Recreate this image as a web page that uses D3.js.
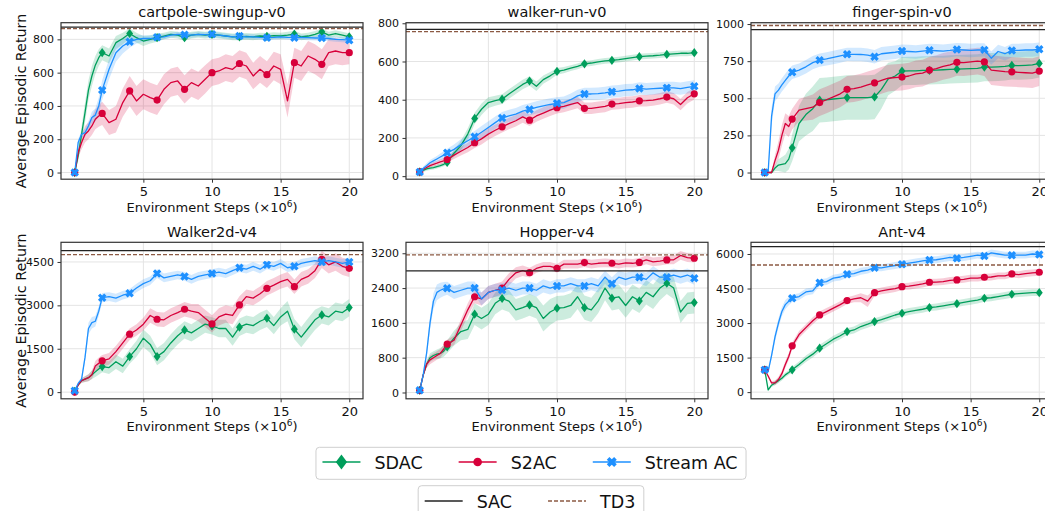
<!DOCTYPE html>
<html>
<head>
<meta charset="utf-8">
<script src="https://cdn.jsdelivr.net/npm/d3@7"></script>
<style>
  body { margin: 0; background: #fff; }
  svg { display: block; font-family: "DejaVu Sans", sans-serif; }
</style>
</head>
<body>
<svg id="fig" width="1045" height="511"></svg>
<script>
// Environment steps (millions) at which returns were evaluated
const steps = [0, 0.25, 0.5, 0.75, 1, 1.25, 1.5, 1.75, 2, 2.5, 3, 3.5, 4, 4.5, 5, 5.5, 6, 6.5, 7, 7.5, 8, 8.5, 9, 9.5, 10, 10.5, 11, 11.5, 12, 12.5, 13, 13.5, 14, 14.5, 15, 15.5, 16, 16.5, 17, 17.5, 18, 18.5, 19, 19.5, 20];
const markerSteps = [0, 2, 4, 6, 8, 10, 12, 14, 16, 18, 20];
const xTicks = [5, 10, 15, 20];

const envNames = ["cartpole-swingup-v0", "walker-run-v0", "finger-spin-v0", "Walker2d-v4", "Hopper-v4", "Ant-v4"];
const sacScores = [873, 768, 962, 4890, 2794, 6317];
const td3Scores = [865, 756, 990, 4752, 3161, 5523];

const cartpoleTicks = [0, 200, 400, 600, 800];
const walkerRunTicks = [0, 200, 400, 600, 800];
const fingerTicks = [0, 250, 500, 750, 1000];
const walker2dTicks = [0, 1500, 3000, 4500];
const hopperTicks = [0, 800, 1600, 2400, 3200];
const antTicks = [0, 1500, 3000, 4500, 6000];

// cartpole-swingup-v0: mean return and half-width of the shaded band
const cartpoleSDAC = [0, 100, 230, 360, 495, 580, 645, 690, 720, 700, 780, 805, 835, 810, 790, 800, 810, 820, 830, 825, 810, 825, 830, 825, 830, 825, 820, 815, 815, 818, 815, 820, 818, 822, 820, 825, 832, 815, 820, 830, 845, 825, 835, 825, 815];
const cartpoleSDACSpread = [0, 30, 50, 60, 60, 60, 55, 50, 45, 45, 40, 35, 30, 30, 30, 25, 25, 20, 20, 20, 20, 20, 20, 20, 20, 20, 20, 20, 20, 20, 20, 20, 20, 20, 20, 20, 20, 20, 20, 20, 20, 20, 20, 20, 20];
const cartpoleS2AC = [0, 120, 180, 230, 250, 280, 320, 340, 355, 300, 320, 420, 490, 430, 470, 450, 435, 500, 540, 550, 500, 540, 520, 560, 600, 610, 630, 620, 655, 640, 580, 620, 588, 640, 620, 430, 660, 640, 700, 680, 650, 720, 730, 720, 720];
const cartpoleS2ACSpread = [0, 30, 40, 50, 50, 55, 60, 65, 70, 75, 80, 85, 90, 90, 90, 90, 90, 90, 85, 85, 85, 85, 85, 85, 80, 80, 80, 80, 80, 80, 80, 80, 80, 85, 90, 100, 90, 90, 90, 90, 90, 80, 80, 75, 70];
const cartpoleStream = [0, 180, 230, 240, 280, 330, 345, 400, 495, 620, 720, 760, 785, 800, 805, 805, 812, 815, 825, 830, 828, 825, 830, 828, 830, 825, 820, 815, 820, 815, 815, 812, 810, 812, 815, 812, 810, 812, 810, 808, 808, 805, 800, 798, 795];
const cartpoleStreamSpread = [0, 20, 20, 25, 30, 35, 40, 50, 60, 60, 55, 45, 35, 25, 20, 18, 15, 15, 15, 15, 15, 15, 15, 15, 15, 15, 15, 15, 15, 15, 15, 15, 15, 15, 15, 15, 15, 15, 15, 15, 15, 15, 15, 15, 15];

// walker-run-v0
const walkerRunSDAC = [22, 30, 38, 42, 45, 50, 55, 62, 72, 120, 160, 220, 302, 350, 385, 395, 403, 430, 455, 480, 498, 470, 505, 525, 548, 555, 565, 575, 588, 592, 598, 603, 606, 610, 615, 620, 625, 628, 630, 633, 637, 640, 643, 643, 646];
const walkerRunSDACSpread = [0, 8, 10, 10, 10, 10, 10, 10, 12, 18, 25, 30, 30, 30, 28, 26, 25, 25, 25, 25, 25, 25, 22, 20, 18, 16, 15, 15, 15, 15, 15, 15, 15, 15, 15, 15, 15, 15, 15, 15, 15, 15, 15, 15, 15];
const walkerRunS2AC = [22, 35, 45, 55, 62, 68, 75, 80, 87, 110, 130, 150, 175, 195, 220, 240, 258, 275, 290, 310, 293, 315, 330, 345, 358, 365, 375, 385, 355, 355, 360, 365, 377, 380, 385, 388, 394, 395, 398, 405, 414, 405, 375, 410, 431];
const walkerRunS2ACSpread = [0, 8, 10, 10, 12, 12, 14, 15, 16, 20, 22, 25, 28, 30, 30, 30, 30, 30, 30, 30, 30, 30, 30, 30, 30, 30, 30, 30, 30, 30, 30, 30, 30, 30, 30, 30, 30, 30, 30, 30, 30, 30, 30, 30, 30];
const walkerRunStream = [22, 40, 55, 70, 80, 90, 100, 110, 122, 140, 165, 185, 206, 230, 255, 280, 304, 315, 325, 340, 349, 360, 368, 375, 381, 385, 400, 420, 430, 430, 432, 436, 442, 445, 450, 452, 459, 455, 458, 460, 462, 462, 458, 465, 470];
const walkerRunStreamSpread = [0, 10, 12, 14, 15, 16, 18, 20, 22, 25, 28, 30, 30, 32, 32, 32, 32, 32, 32, 32, 32, 32, 32, 32, 32, 32, 32, 32, 32, 32, 32, 32, 32, 32, 32, 32, 32, 32, 32, 32, 32, 32, 32, 32, 32];

// finger-spin-v0
const fingerSDAC = [0, 0, 0, 30, 50, 55, 60, 90, 166, 330, 390, 430, 487, 490, 495, 500, 505, 505, 505, 505, 509, 560, 630, 650, 683, 685, 685, 688, 688, 690, 692, 695, 696, 698, 700, 702, 710, 710, 712, 715, 721, 720, 722, 725, 735];
const fingerSDACSpread = [0, 0, 5, 20, 40, 50, 60, 70, 90, 120, 140, 150, 150, 150, 150, 150, 150, 150, 150, 150, 150, 130, 110, 100, 95, 95, 95, 95, 95, 95, 95, 95, 95, 95, 95, 95, 95, 95, 95, 95, 95, 95, 95, 95, 95];
const fingerS2AC = [0, 0, 0, 80, 150, 250, 330, 310, 360, 420, 430, 440, 471, 490, 510, 530, 560, 565, 575, 590, 604, 620, 635, 640, 643, 650, 665, 670, 690, 700, 715, 725, 742, 740, 745, 750, 745, 690, 685, 680, 678, 675, 672, 670, 683];
const fingerS2ACSpread = [0, 0, 10, 40, 60, 70, 70, 70, 70, 75, 80, 85, 90, 90, 90, 90, 90, 90, 90, 90, 90, 90, 90, 90, 90, 90, 90, 90, 90, 90, 90, 90, 90, 90, 90, 90, 95, 100, 100, 100, 100, 100, 100, 100, 100];
const fingerStream = [0, 5, 380, 530, 555, 590, 620, 650, 675, 690, 712, 740, 757, 765, 775, 785, 796, 795, 795, 790, 780, 800, 805, 810, 818, 815, 812, 818, 823, 820, 818, 822, 828, 825, 822, 825, 826, 770, 815, 800, 822, 822, 825, 825, 830];
const fingerStreamSpread = [0, 10, 60, 50, 45, 45, 45, 45, 45, 45, 45, 45, 45, 45, 45, 45, 45, 45, 45, 45, 45, 45, 45, 45, 45, 45, 45, 45, 45, 45, 45, 45, 45, 45, 45, 45, 45, 45, 45, 45, 45, 45, 45, 45, 45];

// Walker2d-v4
const walker2dSDAC = [30, 250, 400, 450, 500, 600, 700, 800, 884, 850, 1050, 900, 1229, 1500, 1864, 1650, 1229, 1400, 1700, 1950, 2151, 2050, 2200, 2350, 2290, 2200, 2200, 1900, 2244, 2350, 2300, 2450, 2555, 2300, 2600, 2800, 2175, 1900, 2200, 2500, 2669, 2600, 2800, 2750, 2922];
const walker2dSDACSpread = [0, 50, 80, 100, 120, 150, 180, 200, 200, 220, 250, 250, 250, 280, 300, 300, 300, 300, 300, 300, 300, 300, 300, 300, 300, 300, 300, 300, 300, 300, 300, 300, 300, 300, 300, 350, 350, 350, 350, 350, 300, 300, 300, 300, 300];
const walker2dS2AC = [0, 250, 400, 450, 500, 600, 900, 1000, 1083, 1150, 1400, 1700, 2003, 2150, 2350, 2650, 2520, 2500, 2650, 2750, 2866, 2800, 2750, 2550, 2359, 2600, 2700, 2650, 3015, 3300, 3250, 3400, 3590, 3700, 3820, 3900, 3646, 3900, 4000, 4200, 4592, 4400, 4500, 4350, 4281];
const walker2dS2ACSpread = [0, 50, 80, 100, 120, 150, 180, 200, 200, 200, 200, 200, 200, 200, 220, 250, 250, 250, 250, 250, 250, 250, 300, 300, 300, 300, 300, 300, 300, 250, 250, 250, 250, 250, 250, 250, 250, 250, 250, 250, 300, 300, 300, 300, 300];
const walker2dStream = [45, 300, 450, 1200, 2200, 2400, 2450, 2800, 3266, 3300, 3250, 3350, 3418, 3600, 3750, 3850, 4100, 3950, 4000, 4050, 4000, 3900, 4000, 4050, 4100, 4150, 4100, 4200, 4300, 4250, 4350, 4250, 4400, 4350, 4450, 4300, 4350, 4450, 4500, 4550, 4500, 4550, 4500, 4450, 4500];
const walker2dStreamSpread = [0, 50, 80, 150, 200, 200, 180, 170, 160, 150, 150, 150, 150, 150, 150, 150, 150, 150, 150, 150, 150, 150, 150, 150, 150, 150, 150, 150, 150, 150, 150, 150, 150, 150, 150, 150, 150, 150, 150, 150, 150, 150, 150, 150, 150];

// Hopper-v4
const hopperSDAC = [50, 400, 650, 800, 850, 880, 900, 950, 1050, 1250, 1400, 1450, 1800, 1700, 1800, 2050, 2160, 2100, 1900, 1950, 2013, 1950, 1700, 1850, 1937, 1950, 2000, 2200, 1950, 1900, 2100, 2400, 2167, 2200, 2000, 2200, 2105, 2300, 2200, 2400, 2511, 2400, 1850, 2050, 2066];
const hopperSDACSpread = [0, 50, 80, 100, 100, 110, 120, 130, 150, 170, 200, 220, 250, 250, 250, 250, 250, 250, 250, 250, 250, 250, 300, 300, 280, 280, 280, 280, 280, 280, 280, 280, 280, 280, 280, 280, 280, 280, 280, 280, 250, 250, 250, 250, 250];
const hopperS2AC = [50, 400, 650, 750, 800, 850, 900, 1000, 1111, 1200, 1550, 1900, 2200, 2150, 2300, 2350, 2400, 2600, 2750, 2800, 2755, 2850, 2900, 2900, 2856, 2950, 2950, 2950, 2985, 2950, 2970, 2980, 2970, 2950, 2980, 2970, 2990, 3050, 3000, 3020, 3046, 3050, 3150, 3100, 3085];
const hopperS2ACSpread = [0, 50, 80, 100, 100, 100, 100, 100, 100, 110, 130, 150, 150, 150, 150, 150, 150, 140, 130, 120, 110, 100, 100, 100, 100, 100, 100, 100, 100, 100, 100, 100, 100, 100, 100, 100, 100, 100, 100, 100, 100, 100, 100, 100, 100];
const hopperStream = [50, 400, 900, 1600, 2100, 2300, 2350, 2380, 2397, 2300, 2350, 2400, 2400, 2150, 2300, 2350, 2358, 2400, 2350, 2400, 2400, 2350, 2450, 2400, 2450, 2450, 2500, 2450, 2450, 2500, 2450, 2650, 2500, 2650, 2600, 2650, 2650, 2600, 2750, 2650, 2650, 2700, 2650, 2700, 2626];
const hopperStreamSpread = [0, 60, 100, 150, 180, 180, 170, 160, 150, 150, 150, 150, 150, 150, 150, 150, 150, 150, 150, 150, 150, 150, 150, 150, 150, 150, 150, 150, 150, 150, 150, 150, 150, 150, 150, 150, 150, 150, 150, 150, 150, 150, 150, 150, 150];

// Ant-v4
const antSDAC = [967, 100, 300, 400, 500, 600, 750, 850, 967, 1200, 1450, 1650, 1909, 2100, 2300, 2450, 2629, 2700, 2850, 2950, 3063, 3150, 3250, 3350, 3427, 3500, 3550, 3600, 3671, 3700, 3750, 3800, 3844, 3900, 3950, 4000, 4078, 4100, 4150, 4200, 4251, 4280, 4300, 4320, 4321];
const antSDACSpread = [0, 60, 80, 100, 100, 100, 100, 100, 120, 130, 140, 150, 150, 150, 150, 150, 150, 150, 150, 150, 150, 150, 150, 150, 150, 150, 150, 150, 150, 150, 150, 150, 150, 150, 150, 150, 150, 150, 150, 150, 150, 150, 150, 150, 150];
const antS2AC = [967, 700, 400, 400, 550, 800, 1200, 1550, 2009, 2500, 2800, 3100, 3354, 3500, 3650, 3800, 3975, 4050, 4100, 3950, 4321, 4400, 4450, 4500, 4581, 4600, 4650, 4700, 4772, 4780, 4800, 4850, 4872, 4900, 4950, 4950, 4989, 5000, 5050, 5050, 5133, 5100, 5150, 5180, 5206];
const antS2ACSpread = [0, 60, 80, 100, 120, 140, 150, 150, 150, 150, 150, 150, 150, 150, 150, 150, 150, 150, 200, 250, 150, 150, 150, 150, 150, 150, 150, 150, 150, 150, 150, 150, 150, 150, 150, 150, 150, 150, 150, 150, 150, 150, 150, 150, 150];
const antStream = [967, 900, 1600, 2400, 3000, 3500, 3800, 3950, 4078, 4150, 4350, 4400, 4755, 4800, 4950, 5000, 5119, 5150, 5250, 5300, 5406, 5400, 5450, 5500, 5553, 5600, 5650, 5700, 5740, 5750, 5800, 5850, 5813, 5850, 5900, 5950, 5913, 6050, 6000, 5950, 5950, 5950, 5950, 6000, 5980];
const antStreamSpread = [0, 50, 150, 200, 200, 200, 200, 180, 160, 150, 150, 150, 150, 150, 150, 150, 150, 150, 150, 150, 150, 150, 150, 150, 150, 150, 150, 150, 150, 150, 150, 150, 150, 150, 150, 150, 150, 150, 150, 150, 150, 150, 150, 150, 150];

// ---------------------------------------------------------------- styling
const algos = [
  { name: "SDAC", color: "#009e5b", marker: "diamond" },
  { name: "S2AC", color: "#d7003a", marker: "circle" },
  { name: "Stream AC", color: "#1e90ff", marker: "cross" }
];
const baselines = [
  { name: "SAC", color: "#222222", dash: null },
  { name: "TD3", color: "#8c5a43", dash: "4,2" }
];

const panels = [
  { ticks: cartpoleTicks, yDomain: [-40, 900], runs: [[cartpoleSDAC, cartpoleSDACSpread], [cartpoleS2AC, cartpoleS2ACSpread], [cartpoleStream, cartpoleStreamSpread]] },
  { ticks: walkerRunTicks, yDomain: [-16, 803], runs: [[walkerRunSDAC, walkerRunSDACSpread], [walkerRunS2AC, walkerRunS2ACSpread], [walkerRunStream, walkerRunStreamSpread]] },
  { ticks: fingerTicks, yDomain: [-45, 1009], runs: [[fingerSDAC, fingerSDACSpread], [fingerS2AC, fingerS2ACSpread], [fingerStream, fingerStreamSpread]] },
  { ticks: walker2dTicks, yDomain: [-231, 5180], runs: [[walker2dSDAC, walker2dSDACSpread], [walker2dS2AC, walker2dS2ACSpread], [walker2dStream, walker2dStreamSpread]] },
  { ticks: hopperTicks, yDomain: [-145, 3452], runs: [[hopperSDAC, hopperSDACSpread], [hopperS2AC, hopperS2ACSpread], [hopperStream, hopperStreamSpread]] },
  { ticks: antTicks, yDomain: [-290, 6508], runs: [[antSDAC, antSDACSpread], [antS2AC, antS2ACSpread], [antStream, antStreamSpread]] }
];

const colLeft = [61, 406, 751];
const rowTop = [22.7, 242.3];
const plotW = 302, plotH = 156.5;

const svg = d3.select("#fig");

function markerPath(kind, s) {
  if (kind === "diamond") {
    const w = s * 0.75, h = s;
    return `M0,${-h}L${w},0L0,${h}L${-w},0Z`;
  }
  if (kind === "circle") {
    return d3.symbol(d3.symbolCircle, Math.PI * s * s)();
  }
  // filled X (thick plus rotated 45 degrees)
  const a = s, t = s * 0.36;
  const pts = [[-t,-a],[t,-a],[t,-t],[a,-t],[a,t],[t,t],[t,a],[-t,a],[-t,t],[-a,t],[-a,-t],[-t,-t]];
  const r = Math.SQRT1_2;
  return "M" + pts.map(([x, y]) => [(x - y) * r, (x + y) * r].map(v => v.toFixed(2)).join(",")).join("L") + "Z";
}
const markerSize = { diamond: 4.6, circle: 3.6, cross: 4.4 };

panels.forEach((p, i) => {
  const left = colLeft[i % 3], top = rowTop[Math.floor(i / 3)];
  const g = svg.append("g").attr("transform", `translate(${left},${top})`);
  const x = d3.scaleLinear().domain([-1, 21]).range([0, plotW]);
  const y = d3.scaleLinear().domain(p.yDomain).range([plotH, 0]);

  const clipId = "clip" + i;
  g.append("clipPath").attr("id", clipId).append("rect").attr("width", plotW).attr("height", plotH);

  // grid
  const grid = g.append("g").attr("stroke", "#e4e4e4").attr("stroke-width", 1);
  grid.selectAll(".gx").data(xTicks).join("line")
    .attr("x1", d => x(d)).attr("x2", d => x(d)).attr("y1", 0).attr("y2", plotH);
  grid.selectAll(".gy").data(p.ticks).join("line")
    .attr("x1", 0).attr("x2", plotW).attr("y1", d => y(d)).attr("y2", d => y(d));

  const body = g.append("g").attr("clip-path", `url(#${clipId})`);

  const pts = (run) => steps.map((s, k) => ({ s, m: run[0][k], d: run[1][k] }));

  // shaded bands
  p.runs.forEach((run, a) => {
    body.append("path").datum(pts(run))
      .attr("fill", algos[a].color).attr("fill-opacity", 0.2)
      .attr("d", d3.area().x(d => x(d.s)).y0(d => y(d.m - d.d)).y1(d => y(d.m + d.d)));
  });
  // mean curves
  p.runs.forEach((run, a) => {
    body.append("path").datum(pts(run))
      .attr("fill", "none").attr("stroke", algos[a].color).attr("stroke-width", 1.3)
      .attr("stroke-linejoin", "round")
      .attr("d", d3.line().x(d => x(d.s)).y(d => y(d.m)));
  });
  // markers every 2M steps
  p.runs.forEach((run, a) => {
    const mk = pts(run).filter(d => markerSteps.includes(d.s));
    body.selectAll(null).data(mk).join("path")
      .attr("transform", d => `translate(${x(d.s)},${y(d.m)})`)
      .attr("d", markerPath(algos[a].marker, markerSize[algos[a].marker]))
      .attr("fill", algos[a].color);
  });

  // reference algorithms
  [sacScores[i], td3Scores[i]].forEach((v, b) => {
    g.append("line").attr("x1", 0).attr("x2", plotW).attr("y1", y(v)).attr("y2", y(v))
      .attr("stroke", baselines[b].color).attr("stroke-width", 1.3)
      .attr("stroke-dasharray", baselines[b].dash);
  });

  // axes
  const xa = g.append("g").attr("transform", `translate(0,${plotH})`)
    .call(d3.axisBottom(x).tickValues(xTicks).tickSize(3.5).tickPadding(4).tickSizeOuter(0));
  xa.select(".domain").remove();
  xa.selectAll("text").attr("font-size", 13).attr("fill", "#111").attr("font-family", "DejaVu Sans");
  xa.selectAll("line").attr("stroke", "#333");

  const ya = g.append("g")
    .call(d3.axisLeft(y).tickValues(p.ticks).tickSize(3.5).tickPadding(3.5).tickSizeOuter(0).tickFormat(d3.format("d")));
  ya.select(".domain").remove();
  ya.selectAll("text").attr("font-size", 11).attr("fill", "#111").attr("font-family", "DejaVu Sans");
  ya.selectAll("line").attr("stroke", "#333");

  g.append("rect").attr("width", plotW).attr("height", plotH)
    .attr("fill", "none").attr("stroke", "#333").attr("stroke-width", 1.2);

  // title
  g.append("text").attr("x", plotW / 2).attr("y", -5.7).attr("text-anchor", "middle")
    .attr("font-size", 14.5).attr("fill", "#111").text(envNames[i]);

  // x label
  const xl = g.append("text").attr("x", plotW / 2).attr("y", plotH + 32.5).attr("text-anchor", "middle")
    .attr("font-size", 13).attr("fill", "#111");
  xl.append("tspan").text("Environment Steps (×10");
  xl.append("tspan").attr("font-size", 9).attr("dy", -5).text("6");
  xl.append("tspan").attr("dy", 5).text(")");

  if (i % 3 === 0) {
    g.append("text").attr("transform", `translate(${25.5 - left},${plotH / 2}) rotate(-90)`)
      .attr("text-anchor", "middle").attr("font-size", 14.3).attr("fill", "#111")
      .text("Average Episodic Return");
  }
});

// ---------------------------------------------------------------- legends
function legend(entries, top, height, lineY, drawHandle) {
  const g = svg.append("g");
  const box = g.append("rect").attr("y", top).attr("height", height).attr("rx", 3.5)
    .attr("fill", "#fff").attr("stroke", "#cfcfcf").attr("stroke-width", 1);
  let cx = 0;
  const items = [];
  entries.forEach((e, k) => {
    const it = g.append("g");
    drawHandle(it, e, cx, lineY);
    const t = it.append("text").attr("x", cx + 38 + 14).attr("y", lineY + 7.3)
      .attr("font-size", 17.5).attr("fill", "#111").text(e.name);
    cx += 38 + 14 + t.node().getComputedTextLength() + (k < entries.length - 1 ? 36 : 0);
    items.push(it);
  });
  const padL = 6.5, padR = 8.5;
  const w = padL + cx + padR;
  const x0 = 531 - w / 2;
  box.attr("x", x0).attr("width", w);
  items.forEach(it => it.attr("transform", `translate(${x0 + padL},0)`));
}

legend(algos, 447.3, 32, 462, (g, e, cx, ly) => {
  g.append("line").attr("x1", cx).attr("x2", cx + 38).attr("y1", ly).attr("y2", ly)
    .attr("stroke", e.color).attr("stroke-width", 1.5);
  const s = e.marker === "diamond" ? 7.5 : e.marker === "circle" ? 4.3 : 5.2;
  g.append("path").attr("transform", `translate(${cx + 19},${ly})`)
    .attr("d", markerPath(e.marker, s)).attr("fill", e.color);
});

legend(baselines, 485.7, 32, 501, (g, e, cx, ly) => {
  g.append("line").attr("x1", cx).attr("x2", cx + 38).attr("y1", ly).attr("y2", ly)
    .attr("stroke", e.color).attr("stroke-width", 1.4).attr("stroke-dasharray", e.dash);
});
</script>
</body>
</html>
